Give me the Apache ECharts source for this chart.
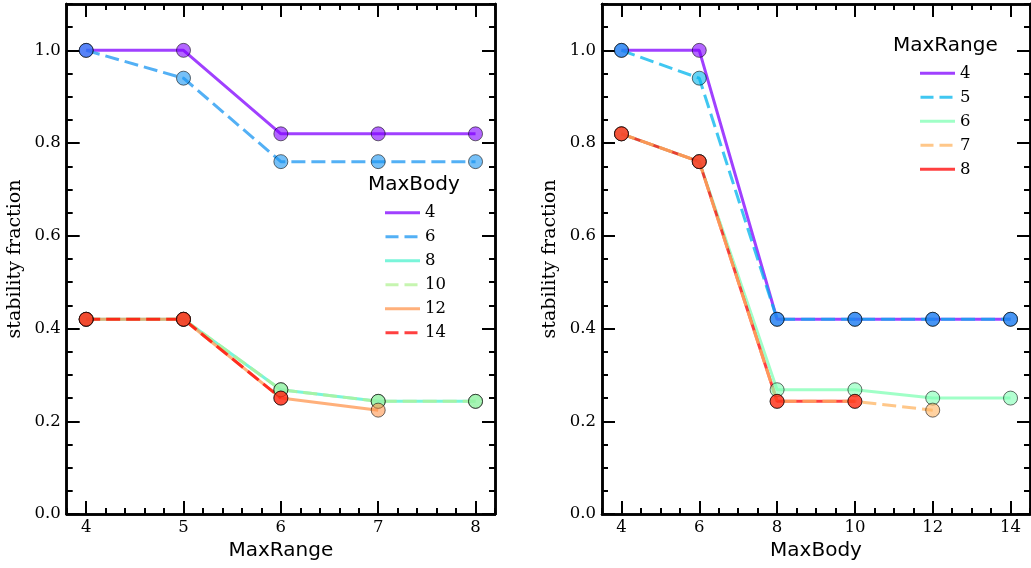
<!DOCTYPE html>
<html>
<head>
<meta charset="utf-8">
<script src="https://cdn.jsdelivr.net/npm/echarts@6/dist/echarts.min.js"></script>
<style>
  html, body { margin: 0; padding: 0; background: #fff; }
  #chart { width: 1031px; height: 568px; }
</style>
</head>
<body>
<div id="chart"></div>
<script>
// ---------------- DATA ----------------
// Left panel: x = MaxRange, one series per MaxBody
const leftX = [4, 5, 6, 7, 8];
const leftNames = ['4', '6', '8', '10', '12', '14'];
const body4  = [1.00, 1.00, 0.82, 0.82, 0.82];
const body6  = [1.00, 0.94, 0.76, 0.76, 0.76];
const body8  = [0.42, 0.42, 0.268, 0.243, 0.243];
const body10 = [0.42, 0.42, 0.268, 0.243, 0.243];
const body12 = [0.42, 0.42, 0.25, 0.224, null];
const body14 = [0.42, 0.42, 0.25, null, null];

// Right panel: x = MaxBody, one series per MaxRange
const rightX = [4, 6, 8, 10, 12, 14];
const rightNames = ['4', '5', '6', '7', '8'];
const range4 = [1.00, 1.00, 0.42, 0.42, 0.42, 0.42];
const range5 = [1.00, 0.94, 0.42, 0.42, 0.42, 0.42];
const range6 = [0.82, 0.76, 0.268, 0.268, 0.25, 0.25];
const range7 = [0.82, 0.76, 0.243, 0.243, 0.224, null];
const range8 = [0.82, 0.76, 0.243, 0.243, null, null];

// Tick labels
const leftTicksX = [4, 5, 6, 7, 8];
const rightTicksX = [4, 6, 8, 10, 12, 14];
const yTicks = [0, 0.2, 0.4, 0.6, 0.8, 1.0];

// ---------------- STYLE ----------------
const leftColors = ['#8000ff', '#1a96f2', '#4df2ce', '#b3f296', '#ff964f', '#ff0000'];
const leftDashed = [false, true, false, true, false, true];
const leftLineOrder = [0, 1, 2, 3, 4, 5];
const rightColors = ['#8000ff', '#00b4ec', '#80ffb4', '#ffb462', '#ff0000'];
const rightDashed = [false, true, false, true, false];
const rightLineOrder = [0, 1, 2, 4, 3];
const ALPHA = 0.75;
const SERIF = '"DejaVu Serif", serif';
const SANS = '"DejaVu Sans", sans-serif';

function rgba(hex, a) {
  const r = parseInt(hex.slice(1, 3), 16), g = parseInt(hex.slice(3, 5), 16), b = parseInt(hex.slice(5, 7), 16);
  return 'rgba(' + r + ',' + g + ',' + b + ',' + a + ')';
}
function pts(xs, ys) {
  const out = [];
  xs.forEach((x, i) => { if (ys[i] != null) out.push([x, ys[i]]); });
  return out;
}
function steps(min, max, step) {
  const out = [];
  const n = Math.round((max - min) / step);
  for (let i = 0; i <= n; i++) out.push(Math.round((min + i * step) * 1000) / 1000);
  return out;
}

const G_LEFT = { left: 66.7, top: 4, width: 428.3, height: 510 };
const G_RIGHT = { left: 602, top: 4, width: 428, height: 510 };

function baseAxis(extra) {
  return Object.assign({
    type: 'value',
    silent: true,
    splitLine: { show: false },
    axisLine: { show: true, onZero: false, lineStyle: { color: '#000', width: 2.5 } },
    axisLabel: { show: false },
  }, extra);
}
function majorTick(vals) {
  return { show: true, inside: true, length: 13, customValues: vals, lineStyle: { color: '#000', width: 2 } };
}
function minorTick(vals) {
  return { show: true, inside: true, length: 6, customValues: vals, lineStyle: { color: '#000', width: 2 } };
}

function makeXAxes(gMajor, gMinor, min, max, majors, minorStep, name) {
  const minors = steps(min, max, minorStep);
  return [
    baseAxis({ gridIndex: gMajor, position: 'bottom', min, max, axisTick: majorTick(majors),
      axisLabel: { show: true, customValues: majors, margin: 5, color: '#000', fontFamily: SERIF, fontSize: 16.5 },
      name, nameLocation: 'middle', nameGap: 24, nameTextStyle: { color: '#000', fontFamily: SANS, fontSize: 20 } }),
    baseAxis({ gridIndex: gMajor, position: 'top', min, max, axisTick: majorTick(majors) }),
    baseAxis({ gridIndex: gMinor, position: 'bottom', min, max, axisTick: minorTick(minors) }),
    baseAxis({ gridIndex: gMinor, position: 'top', min, max, axisTick: minorTick(minors) }),
  ];
}
function makeYAxes(gMajor, gMinor) {
  const min = 0, max = 1.1;
  const minors = steps(0, 1.1, 0.05);
  return [
    baseAxis({ gridIndex: gMajor, position: 'left', min, max, axisTick: majorTick(yTicks),
      axisLabel: { show: true, customValues: yTicks, margin: 6, color: '#000', fontFamily: SERIF, fontSize: 16.5,
        formatter: v => Number(v).toFixed(1) },
      name: 'stability fraction', nameLocation: 'middle', nameGap: 42, nameRotate: 90,
      nameTextStyle: { color: '#000', fontFamily: SERIF, fontSize: 19 } }),
    baseAxis({ gridIndex: gMajor, position: 'right', min, max, axisTick: majorTick(yTicks) }),
    baseAxis({ gridIndex: gMinor, position: 'left', min, max, axisTick: minorTick(minors) }),
    baseAxis({ gridIndex: gMinor, position: 'right', min, max, axisTick: minorTick(minors) }),
  ];
}

// lines (legend entries) drawn first, in the given order; markers drawn on top
function makeSeries(prefix, names, xs, ysList, colors, dashed, order, axisIdx) {
  const lines = order.map(i => ({
    type: 'line',
    name: prefix + ' ' + names[i],
    xAxisIndex: axisIdx, yAxisIndex: axisIdx,
    data: pts(xs, ysList[i]),
    color: rgba(colors[i], ALPHA),
    showSymbol: false, symbol: 'none',
    lineStyle: { width: 3, type: dashed[i] ? [14, 6] : 'solid', cap: 'butt', color: rgba(colors[i], ALPHA) },
    emphasis: { disabled: true },
    animation: false,
    z: 2,
  }));
  const marks = names.map((nm, i) => ({
    type: 'scatter',
    name: prefix + ' ' + nm + ' markers',
    xAxisIndex: axisIdx, yAxisIndex: axisIdx,
    data: pts(xs, ysList[i]),
    symbol: 'circle', symbolSize: 14,
    itemStyle: { color: rgba(colors[i], ALPHA), borderColor: 'rgba(0,0,0,0.7)', borderWidth: 1 },
    emphasis: { disabled: true },
    animation: false,
    z: 3,
  }));
  return lines.concat(marks);
}

const SOLID_ICON = 'path://M0,0H35V3H0Z';
const DASH_ICON = 'path://M0,0L0,3Z M0.5,0H13.5V3H0.5Z M19.5,0H32.5V3H19.5Z M35,0L35,3Z';

function legendData(prefix, names, dashed) {
  return names.map((nm, i) => ({ name: prefix + ' ' + nm, icon: dashed[i] ? DASH_ICON : SOLID_ICON }));
}
function makeLegend(prefix, names, dashed, left, top) {
  return {
    orient: 'vertical', left, top, padding: 0,
    itemWidth: 35, itemHeight: 3, itemGap: 6,
    selectedMode: false,
    data: legendData(prefix, names, dashed),
    formatter: n => n.split(' ')[1],
    itemStyle: { borderWidth: 0 },
    textStyle: { color: '#000', fontFamily: SERIF, fontSize: 16.5, lineHeight: 18, padding: 0 },
  };
}

const chart = echarts.init(document.getElementById('chart'), null, { renderer: 'canvas' });
chart.setOption({
  animation: false,
  backgroundColor: '#fff',
  grid: [G_LEFT, G_LEFT, G_RIGHT, G_RIGHT].map(g => Object.assign({ containLabel: false, show: false }, g)),
  xAxis: [].concat(
    makeXAxes(0, 1, 3.8, 8.2, leftTicksX, 0.2, 'MaxRange'),
    makeXAxes(2, 3, 3.5, 14.5, rightTicksX, 0.5, 'MaxBody')
  ),
  yAxis: [].concat(makeYAxes(0, 1), makeYAxes(2, 3)),
  legend: [
    makeLegend('MaxBody', leftNames, leftDashed, 385, 203.7),
    makeLegend('MaxRange', rightNames, rightDashed, 920, 64.3),
  ],
  graphic: [
    { type: 'text', left: 368, top: 175, style: { text: 'MaxBody', font: '20px "DejaVu Sans"', fill: '#000' } },
    { type: 'text', left: 893, top: 36, style: { text: 'MaxRange', font: '20px "DejaVu Sans"', fill: '#000' } },
  ],
  series: [].concat(
    makeSeries('MaxBody', leftNames, leftX, [body4, body6, body8, body10, body12, body14], leftColors, leftDashed, leftLineOrder, 0),
    makeSeries('MaxRange', rightNames, rightX, [range4, range5, range6, range7, range8], rightColors, rightDashed, rightLineOrder, 4)
  ),
});
</script>
</body>
</html>
